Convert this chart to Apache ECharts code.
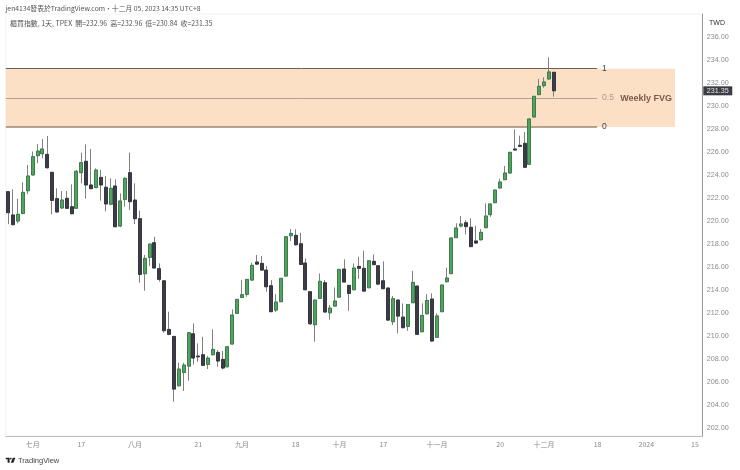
<!DOCTYPE html>
<html><head><meta charset="utf-8">
<style>html,body{margin:0;padding:0;background:#fff}#c{width:740px;height:470px}</style>
<script src="https://cdn.jsdelivr.net/npm/echarts@6/dist/echarts.min.js"></script>
</head><body><div id="c"></div>
<script>
const opens=[222.58,220.55,220.03,220.69,222.66,224.03,225.71,225.88,225.82,224.26,
221.97,221.16,222.0,221.27,221.13,224.23,225.22,223.16,222.93,223.82,
222.96,221.48,223.07,219.59,221.91,224.23,221.85,220.23,215.44,216.86,
218.14,215.88,214.83,210.60,209.99,205.70,206.86,207.41,210.22,208.28,
208.40,207.56,208.40,208.60,207.99,207.35,209.33,211.99,213.38,213.65,
214.89,216.46,216.34,215.76,214.40,212.28,213.01,215.24,218.75,218.78,
218.05,216.37,213.88,211.01,213.30,214.66,212.05,212.63,213.41,215.85,
214.43,214.05,216.08,215.91,214.22,216.52,216.14,214.83,214.20,211.27,
213.15,211.67,210.86,212.92,214.37,210.40,211.96,213.24,209.91,212.14,
214.75,215.45,218.58,219.59,219.88,219.48,218.29,218.40,219.45,220.58,
221.62,222.90,223.62,224.20,226.29,226.61,226.78,224.96,229.07,231.02,
231.80,232.38,232.96];
const closes=[220.75,219.71,220.61,222.52,223.94,225.62,226.11,226.29,224.66,221.82,
220.81,221.85,221.13,220.66,224.35,225.10,223.16,222.84,224.46,223.16,
221.51,222.87,219.53,221.77,223.74,221.71,220.23,215.38,216.78,218.02,
215.94,214.95,210.49,210.17,205.41,207.15,207.50,210.31,208.11,208.22,
207.47,208.11,208.86,207.85,207.24,209.09,211.85,213.21,213.62,214.95,
216.17,216.28,215.76,214.31,212.14,212.98,215.04,218.66,218.95,217.96,
216.25,214.05,211.09,213.15,214.78,212.11,212.46,213.07,215.82,214.72,
213.73,215.94,215.91,213.93,216.57,216.23,214.54,214.14,211.41,213.27,
211.76,210.75,212.75,214.69,210.17,211.82,213.12,209.59,211.77,214.46,
215.07,218.55,219.42,219.77,219.54,217.80,218.11,219.04,220.46,221.51,
222.72,223.42,224.20,226.0,226.2,226.52,224.70,228.90,230.87,231.74,
232.12,232.99,231.35];
const lows=[219.77,219.65,219.82,220.6,222.37,224.0,225.04,225.48,224.6,220.61,
220.78,221.1,221.1,220.6,221.1,223.30,221.97,222.8,222.9,221.80,
220.87,221.4,219.5,219.5,221.27,220.98,219.77,214.66,213.96,216.11,
215.9,214.75,210.31,210.1,204.31,205.65,205.24,206.14,207.53,207.79,
207.45,207.15,208.35,207.35,207.12,207.3,209.3,211.95,213.35,213.44,
214.85,216.20,215.7,213.88,212.1,212.11,213.0,215.2,218.28,217.9,
216.2,214.0,210.98,209.53,213.25,212.05,211.44,212.6,213.35,214.7,
212.22,214.0,215.0,213.9,214.2,216.2,214.5,214.1,211.35,210.98,
210.25,210.7,210.48,212.9,210.1,210.35,211.9,209.5,209.85,212.1,
214.7,215.4,218.55,219.48,218.87,217.75,218.05,218.32,219.4,220.40,
221.6,222.85,223.6,224.15,226.15,226.45,224.65,224.9,229.05,231.0,
231.62,232.3,230.84];
const highs=[222.62,222.78,221.97,223.39,224.90,226.06,226.72,227.16,227.42,224.3,
222.87,222.64,222.64,223.22,224.46,225.97,226.69,226.29,224.61,224.46,
223.94,223.74,223.65,222.43,223.82,225.97,223.30,220.92,217.07,218.05,
218.66,216.34,214.87,212.14,210.0,207.70,207.70,210.35,211.12,209.38,
209.96,208.28,210.60,208.80,208.72,209.1,212.34,213.25,214.89,214.98,
216.40,217.07,216.98,216.11,214.89,213.67,215.05,218.7,219.33,219.30,
219.01,216.78,213.9,213.2,215.47,214.89,212.72,214.25,215.85,216.69,
214.45,216.34,216.92,217.44,216.6,217.12,216.15,216.52,214.25,213.50,
213.2,212.86,212.8,215.70,214.4,212.86,213.67,213.73,212.0,214.5,
215.97,218.6,219.83,220.46,220.11,220.26,219.62,219.33,221.56,221.55,
222.75,223.71,224.81,226.03,228.0,227.45,227.77,228.95,230.9,232.38,
232.52,234.26,232.96];

const slotCount=143;
const xTickIndex=[5,15,26,39,48,59,68,77,88,101,110,121,131,141];
const xTickLabels=['七月','17','八月','21','九月','18','十月','17','十一月','20','十二月','18','2024','15'];
const yTickValues=[202,204,206,208,210,212,214,216,218,220,222,224,226,228,230,232,234,236];
const fvgTop=233.27, fvgMid=230.73, fvgBottom=228.2;
const lastPrice=231.35;
const fvgRight=137.4, lineEnd=121.4;

const categories=Array.from({length:slotCount},(_,i)=>{const k=xTickIndex.indexOf(i);return k>=0?xTickLabels[k]:''+i;});
const wicks=opens.map((o,i)=>[o,closes[i],lows[i],highs[i]]);
const bodies=opens.map((o,i)=>[o,closes[i],Math.min(o,closes[i]),Math.max(o,closes[i])]);
const font='"Noto Sans CJK TC","Noto Sans",sans-serif';
const lat='"Liberation Sans",sans-serif';
const fl=(v,name,color,width,lcolor)=>[{xAxis:0,yAxis:v,lineStyle:{color:color,width:width,type:'solid'},
  label:{show:true,position:'end',formatter:name,color:lcolor,fontSize:8.5,fontFamily:lat,distance:5}},{xAxis:lineEnd,yAxis:v}];

const chart=echarts.init(document.getElementById('c'),null,{renderer:'canvas'});
chart.setOption({
  animation:false,backgroundColor:'#fff',
  grid:{left:5.87,right:37.7,top:14,bottom:34,show:true,borderColor:'#f1f1f1',borderWidth:1,backgroundColor:'transparent'},
  xAxis:[{type:'category',data:categories,boundaryGap:true,
    axisLine:{show:true,lineStyle:{color:'#bdbdbd',width:1}},axisTick:{show:false},splitLine:{show:false},
    axisLabel:{interval:(i)=>xTickIndex.includes(i),hideOverlap:false,color:'#8a8a8a',fontSize:7,margin:4.5,fontFamily:font}},
    {type:'value',min:0,max:slotCount,show:false}],
  yAxis:{type:'value',position:'right',scale:true,min:201.33,max:238.03,
    axisLine:{show:true,onZero:false,lineStyle:{color:'#9a9a9a',width:1}},axisTick:{show:false},splitLine:{show:false},
    axisLabel:{customValues:yTickValues,formatter:(v)=>v.toFixed(2),color:'#8c8c8c',fontSize:7.2,margin:4.5,fontFamily:lat}},
  series:[
    {type:'line',name:'fvg',xAxisIndex:1,data:[],symbol:'none',z:1,
     markArea:{silent:true,z:1,itemStyle:{color:'#fce0c6',borderWidth:0},
       label:{show:true,position:'insideRight',distance:3,formatter:'Weekly FVG',color:'#7a5a48',fontSize:9,fontWeight:'bold',fontFamily:lat,offset:[0,1]},
       data:[[{xAxis:0,yAxis:fvgTop},{xAxis:fvgRight,yAxis:fvgBottom}]]},
     markLine:{silent:true,z:2,symbol:'none',animation:false,
       data:[fl(fvgTop,'1','#6e5f55',1,'#444'),fl(fvgMid,'0.5','#b3a08e',1,'#a89a8c'),fl(fvgBottom,'0','#9a8a74',1.6,'#444')]}},
    {type:'candlestick',name:'wick',data:wicks,barWidth:3.5,z:3,
     itemStyle:{color:'transparent',color0:'transparent',borderColor:'#80807f',borderColor0:'#80807f',borderWidth:1}},
    {type:'candlestick',name:'body',data:bodies,barWidth:3.5,z:4,
     itemStyle:{color:'#4ea65c',color0:'#3b3b49',borderColor:'#2f7040',borderColor0:'#26262f',borderWidth:0.7}},
    {type:'line',name:'last',xAxisIndex:1,data:[],symbol:'none',z:6,
     markLine:{silent:true,z:6,symbol:'none',animation:false,lineStyle:{color:'transparent',width:0},
       data:[{yAxis:lastPrice,lineStyle:{color:'transparent',width:0},label:{show:true,position:'end',distance:1,formatter:()=>lastPrice.toFixed(2),color:'#e8e8e8',
         fontSize:7.2,fontFamily:lat,backgroundColor:'#3c3c46',padding:[1,3.5,1,3.5],lineHeight:7}}]}}
  ],
  graphic:[
    {type:'text',left:5.5,top:5,style:{text:'jen4134發表於TradingView.com・十二月 05, 2023 14:35 UTC+8',fill:'#555',font:'6.8px '+font}},
    {type:'text',left:10,top:20,style:{text:'櫃買指數, 1天, TPEX  開=232.96  高=232.96  低=230.84  收=231.35',fill:'#555',font:'6.95px '+font}},
    {type:'text',x:717,y:23.3,style:{text:'TWD',fill:'#333',font:'7px '+lat,align:'center',verticalAlign:'middle'}},
    {type:'text',left:18,top:456.5,style:{text:'TradingView',fill:'#444',font:'7.5px '+lat}},
    {type:'polygon',shape:{points:[[5.7,457.7],[9.6,457.7],[9.6,462.7],[7.6,462.7],[7.6,459.3],[5.7,459.3]]},style:{fill:'#222'}},
    {type:'circle',shape:{cx:10.7,cy:458.6,r:0.95},style:{fill:'#222'}},
    {type:'polygon',shape:{points:[[12.8,457.7],[15.4,457.7],[13.4,462.7],[10.8,462.7]]},style:{fill:'#222'}}
  ]
});
</script></body></html>
